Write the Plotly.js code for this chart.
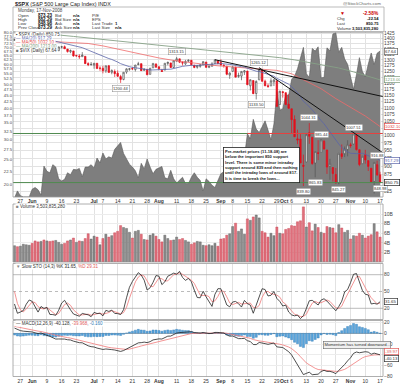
<!DOCTYPE html>
<html><head><meta charset="utf-8">
<script src="https://cdn.plot.ly/plotly-3.0.1.min.js"></script>
<style>html,body{margin:0;padding:0;background:#fff}#chart{width:400px;height:385px}</style>
</head><body><div id="chart"></div>
<script>
// ---------------- DATA (S&P 500, daily, 22-May-2008 .. 17-Nov-2008) ----------------
const dates = ["05-22","05-23","05-27","05-28","05-29","05-30","06-02","06-03","06-04","06-05","06-06","06-09","06-10","06-11","06-12","06-13","06-16","06-17","06-18","06-19","06-20","06-23","06-24","06-25","06-26","06-27","06-30","07-01","07-02","07-03","07-07","07-08","07-09","07-10","07-11","07-14","07-15","07-16","07-17","07-18","07-21","07-22","07-23","07-24","07-25","07-28","07-29","07-30","07-31","08-01","08-04","08-05","08-06","08-07","08-08","08-11","08-12","08-13","08-14","08-15","08-18","08-19","08-20","08-21","08-22","08-25","08-26","08-27","08-28","08-29","09-02","09-03","09-04","09-05","09-08","09-09","09-10","09-11","09-12","09-15","09-16","09-17","09-18","09-19","09-22","09-23","09-24","09-25","09-26","09-29","09-30","10-01","10-02","10-03","10-06","10-07","10-08","10-09","10-10","10-13","10-14","10-15","10-16","10-17","10-20","10-21","10-22","10-23","10-24","10-27","10-28","10-29","10-30","10-31","11-03","11-04","11-05","11-06","11-07","11-10","11-11","11-12","11-13","11-14","11-17"].map(d => "2008-" + d);

const openP = [1390.8,1392.2,1375.9,1386.5,1390.5,1398.4,1399.6,1386.4,1376.3,1377.5,
1400.1,1360.8,1358.9,1357.1,1335.8,1341.8,1358.9,1360.7,1349.6,1336.9,
1341.0,1319.8,1317.2,1314.5,1316.3,1283.6,1278.1,1276.7,1285.0,1262.96,
1262.9,1251.8,1273.4,1245.3,1248.7,1241.6,1226.8,1214.7,1246.3,1258.2,
1261.8,1257.1,1278.9,1283.2,1253.5,1257.8,1236.4,1264.5,1281.4,1269.4,
1253.3,1254.9,1284.0,1286.5,1266.3,1294.4,1304.8,1288.6,1282.1,1293.9,
1298.1,1276.7,1267.3,1271.1,1277.6,1290.5,1267.0,1271.3,1283.8,1296.5,
1287.8,1276.6,1271.8,1233.2,1249.5,1268.0,1227.5,1229.0,1245.9,1250.9,
1188.3,1210.3,1157.1,1213.1,1255.4,1207.6,1188.8,1187.9,1204.5,1209.1,
1113.8,1164.2,1160.6,1115.2,1097.6,1057.6,988.9,988.4,902.3,912.8,
1010.0,994.6,909.5,942.3,943.5,980.4,951.7,899.1,895.2,874.3,
848.9,939.5,939.4,953.1,968.7,971.3,1001.8,952.4,907.4,936.8,
917.2,893.4,853.1,904.4,873.23];
const highP = [1399.1,1392.2,1387.4,1391.3,1406.3,1404.5,1399.6,1393.1,1388.2,1404.1,
1400.1,1370.6,1366.8,1357.1,1353.0,1360.0,1364.7,1366.6,1349.6,1347.7,
1341.0,1323.8,1326.0,1335.6,1316.3,1289.5,1290.3,1285.3,1285.0,1271.5,
1273.95,1274.2,1277.4,1257.7,1257.6,1253.5,1234.4,1245.5,1262.3,1262.2,
1267.7,1277.4,1291.2,1283.2,1263.2,1260.1,1263.2,1284.3,1284.9,1270.5,
1260.5,1284.9,1291.7,1286.5,1297.9,1313.15,1304.8,1294.0,1300.1,1302.1,
1300.2,1276.7,1276.0,1281.4,1293.1,1290.5,1275.7,1289.6,1300.7,1296.5,
1303.0,1280.6,1271.8,1244.9,1274.4,1268.7,1243.9,1250.0,1255.1,1250.9,
1214.8,1210.3,1211.1,1265.1,1255.4,1214.0,1197.4,1220.0,1215.8,1209.1,
1168.0,1167.0,1160.6,1153.8,1097.6,1072.9,1021.1,1005.3,936.4,1006.9,
1044.31,994.6,947.7,984.4,985.44,985.4,951.7,922.8,896.3,893.8,
940.5,970.0,963.2,984.4,975.6,1007.51,1001.8,952.4,931.5,952.0,
917.2,893.4,913.0,916.88,882.29];
const lowP = [1390.2,1373.7,1373.1,1378.2,1388.6,1398.1,1377.8,1370.1,1371.7,1377.5,
1359.9,1350.7,1351.6,1335.5,1331.3,1341.7,1352.1,1350.5,1333.4,1330.4,
1314.5,1315.3,1304.4,1314.5,1283.2,1272.0,1274.9,1260.7,1261.5,1252.0,
1240.7,1242.8,1244.6,1236.8,1225.4,1225.0,1200.44,1211.4,1239.0,1251.8,
1255.7,1248.8,1276.1,1251.5,1251.8,1234.4,1236.4,1264.5,1266.0,1254.5,
1247.5,1254.7,1276.0,1264.3,1262.1,1292.2,1285.6,1274.9,1276.8,1290.7,
1274.5,1263.1,1261.2,1265.2,1277.6,1264.9,1263.2,1271.1,1283.8,1282.5,
1272.2,1265.6,1232.8,1217.2,1247.1,1224.5,1221.6,1211.5,1233.8,1192.7,
1169.3,1155.9,1133.5,1213.1,1205.6,1187.8,1179.8,1187.9,1187.5,1106.4,
1113.8,1140.8,1111.4,1098.1,1008.0,996.2,971.0,909.2,839.8,912.8,
972.1,904.0,865.83,918.7,943.5,952.5,875.8,858.4,852.9,846.8,
845.27,922.3,928.5,930.9,958.8,971.3,949.9,899.7,906.9,907.5,
884.9,850.5,818.69,869.9,848.98];
const closeP = [1394.4,1375.9,1385.4,1390.8,1398.3,1400.4,1385.7,1377.7,1377.2,1404.1,
1360.7,1361.8,1358.4,1335.5,1339.9,1360.0,1360.1,1350.9,1337.8,1342.8,
1317.9,1318.0,1314.3,1322.0,1283.2,1278.4,1280.0,1284.9,1261.5,1262.9,
1252.3,1273.7,1244.7,1253.4,1239.5,1228.3,1214.9,1245.4,1260.3,1260.7,
1260.0,1277.0,1282.2,1252.5,1257.8,1234.4,1263.2,1284.3,1267.4,1260.3,
1249.0,1284.9,1289.2,1266.1,1296.3,1305.3,1289.6,1285.8,1292.9,1298.2,
1278.6,1266.7,1274.5,1277.7,1292.2,1266.8,1271.5,1281.7,1300.7,1282.8,
1277.6,1275.0,1236.8,1242.3,1267.8,1224.5,1232.0,1249.1,1251.7,1192.7,
1213.6,1156.4,1206.5,1255.1,1207.1,1188.2,1185.9,1209.2,1213.3,1106.4,
1166.4,1161.1,1114.3,1099.2,1056.9,996.2,984.9,909.9,899.2,1003.4,
998.0,907.8,946.4,940.6,985.4,955.1,896.8,908.1,876.8,848.9,
940.5,930.1,954.1,968.8,966.3,1005.8,952.8,904.9,931.0,919.2,
899.0,852.3,911.3,873.3,850.75];

// Prior sessions (24-Apr .. 21-May-2008) used only to warm up the indicators
const priorOpen  = [1380.5,1387.9,1397.96,1395.6,1391.2,1385.97,1409.16,1413.9,1405.6,1417.49,1394.29,1394.9,1389.4,1404.4,1405.65,1408.36,1423.89,1425.28,1424.49,1414.06];
const priorHigh  = [1397.7,1399.1,1402.9,1397.0,1404.6,1410.07,1422.72,1415.3,1421.57,1419.54,1402.35,1394.9,1404.06,1406.3,1420.19,1424.4,1425.82,1440.24,1424.49,1419.12];
const priorLow   = [1371.1,1379.98,1394.4,1386.7,1384.3,1383.07,1406.25,1404.4,1397.1,1391.16,1389.39,1384.11,1386.2,1396.26,1405.65,1406.87,1414.35,1421.63,1409.09,1388.81];
const priorClose = [1388.8,1397.8,1396.4,1390.9,1385.6,1409.34,1413.9,1407.49,1418.26,1392.57,1397.68,1388.28,1403.58,1403.04,1408.66,1423.57,1425.35,1426.63,1413.4,1390.71];
const macdSeed = [1370, 1355, 9];   // EMA12, EMA26, signal estimated for 23-Apr-2008

// Volume, billions of shares
const volume = [3.4,3.2,3.3,3.7,3.6,3.5,3.9,4.4,4.2,4.3,
4.6,4.4,4.3,4.4,4.5,4.1,3.7,3.9,4.4,4.6,
5.0,4.1,4.4,4.3,4.9,5.9,4.8,5.4,5.2,3.6,
4.9,5.8,5.2,5.5,6.1,6.4,7.6,7.2,7.0,6.2,
5.0,6.4,6.6,5.8,4.7,4.6,5.6,5.9,5.4,4.7,
4.2,5.6,4.9,4.5,4.6,5.2,4.7,4.9,4.5,4.2,
3.7,4.0,4.3,4.2,3.5,3.4,3.6,3.4,3.9,3.3,
4.8,4.9,5.6,5.9,7.4,8.1,6.4,6.9,5.8,9.0,
8.7,9.4,9.8,9.2,6.4,6.1,5.2,6.0,5.5,7.3,
6.0,5.9,6.8,7.0,7.6,7.5,8.4,8.6,11.5,7.3,
8.2,6.5,7.9,7.2,6.2,6.0,7.4,7.2,7.1,6.1,
7.8,7.1,6.2,6.6,4.8,5.5,5.4,6.0,5.6,5.0,
5.4,5.7,8.0,6.3,5.2];

// $VIX close (area behind price, left log axis)
const vix = [17.6,18.8,18.0,17.8,17.8,17.8,19.1,19.4,19.0,18.1,
23.6,22.5,22.2,23.9,23.4,21.0,20.6,20.9,22.2,21.8,
22.9,22.8,23.1,21.4,23.4,23.4,23.9,23.2,25.4,24.3,
26.6,25.2,25.7,25.4,27.5,28.5,29.3,26.5,25.1,24.0,
23.4,22.6,21.2,24.2,23.0,25.2,23.4,22.0,22.9,23.2,
23.5,21.2,21.0,22.7,21.0,20.2,20.7,21.3,20.1,20.1,
21.3,22.2,21.3,20.7,18.8,21.0,20.5,19.8,19.4,20.7,
22.0,22.4,24.0,23.1,22.6,25.5,25.0,24.4,25.7,31.7,
30.3,36.2,33.1,32.1,33.8,35.7,32.8,30.0,34.7,46.7,
39.4,39.8,45.3,45.1,52.1,53.7,57.5,63.9,69.95,55.0,
53.1,69.25,67.6,70.3,52.97,53.1,69.65,67.8,79.1,80.06,
66.96,69.96,62.9,59.89,53.68,47.73,54.56,63.68,56.1,53.45,
59.98,66.46,59.83,66.31,67.64];

// Moving averages (session index -> value)
const ma50Idx = [0,5,10,15,20,25,30,35,40,45,49,54,59,64,69,74,79,84,89,94,99,104,109,114,119,124];
const ma50Val = [1368,1375,1381,1383.6,1380.5,1376,1364.5,1349.7,1332.4,1317.9,1308.7,1297.5,1288.0,1280.7,1273.7,1268.6,1264.2,1259.7,1253.6,1239.0,1208.7,1176.5,1136.8,1104.2,1070.4,1032.1];
const ma200Idx = [0,10,20,30,40,50,60,70,80,90,95,100,105,110,115,120,124];
const ma200Val = [1432,1424,1410,1395,1380,1366,1352,1338,1325,1310,1300,1289,1278,1264,1247,1229,1213];

// Drawn trend lines and levels
const trend1Idx = [68, 125], trend1Val = [1300.7, 1145];
const trend2Idx = [83, 125], trend2Val = [1265.1, 942];
const greenLevels = [1007.5, 850];
const redLevel = 1007.5, redLevelStart = 79;

// Price labels on highs / lows
const labelIdx  = [36, 55, 83, 82, 100, 98, 104, 115, 102, 110, 123, 124];
const labelVal  = [1200.44, 1313.15, 1265.12, 1133.50, 1044.31, 839.80, 985.44, 1007.51, 865.83, 845.27, 916.88, 848.98];
const labelSide = [-1, 1, 1, -1, 1, -1, 1, 1, -1, -1, 1, -1];

// Axis ticks
const tickIdx  = [2,6,11,16,21,27,30,35,40,45,49,55,60,65,70,74,79,84,89,91,94,99,104,109,114,119,124];
const tickText = ["27","<b>Jun</b>","9","16","23","<b>Jul</b>","7","14","21","28","<b>Aug</b>","11","18","25","<b>Sep</b>","8","15","22","29","\u00a0\u00a0<b>Oct</b>","6","13","20","27","<b>Nov</b>","10","17"];
const priceTicks = [825,850,875,900,925,950,975,1000,1025,1050,1075,1100,1125,1150,1175,1200,1225,1250,1275,1300,1325,1350,1375,1400,1425];
const vixTicks = [20,22.5,25,27.5,30,32.5,35,37.5,40,42.5,45,47.5,50,52.5,55,57.5,60,62.5,65,67.5,70,72.5,75,77.5,80];
const volTicks = [2,4,6,8,10];
const stoLevels = [20, 50, 80];

// ---------------- INDICATORS ----------------
const allH = priorHigh.concat(highP), allL = priorLow.concat(lowP), allC = priorClose.concat(closeP);
const P = priorClose.length;
const xIdx = closeP.map((_, i) => i);
function sma(arr, n, j){ let s = 0, c = 0; for (let k = Math.max(0, j - n + 1); k <= j; k++){ s += arr[k]; c++; } return s / c; }
const ma20 = xIdx.map(i => sma(allC, 20, i + P));
const fastK = allC.map((c, j) => { let hh = -Infinity, ll = Infinity;
  for (let k = Math.max(0, j - 13); k <= j; k++){ hh = Math.max(hh, allH[k]); ll = Math.min(ll, allL[k]); }
  return 100 * (c - ll) / (hh - ll); });
const slowKAll = fastK.map((_, j) => sma(fastK, 3, j));
const slowDAll = slowKAll.map((_, j) => sma(slowKAll, 3, j));
const stoK = xIdx.map(i => slowKAll[i + P]), stoD = xIdx.map(i => slowDAll[i + P]);
let e12 = macdSeed[0], e26 = macdSeed[1], sg = macdSeed[2];
const macdAll = [], sigAll = [];
allC.forEach(c => { e12 += (c - e12) * 2 / 13; e26 += (c - e26) * 2 / 27; const m = e12 - e26; sg += (m - sg) * 2 / 10; macdAll.push(m); sigAll.push(sg); });
const macd = xIdx.map(i => macdAll[i + P]), signal = xIdx.map(i => sigAll[i + P]);
const hist = macd.map((m, i) => m - signal[i]);
const volColor = closeP.map((c, i) => c < allC[i + P - 1] ? '#e0707c' : '#8a8a8a');
const volLine  = closeP.map((c, i) => c < allC[i + P - 1] ? '#c8404e' : '#5a5a5a');

// ---------------- LAYOUT HELPERS ----------------
const L = 13, R = 383, H = 385;
const px = x => (x - L) / (R - L);
const py = y => 1 - y / H;
const FONT = 'Liberation Sans, Arial, sans-serif';
const lg = Math.log10;

const MB = 376.5;
const mainDom = [py(197), py(32.3)], volDom = [py(262), py(204)], stoDom = [py(319.5), py(263.5)], macdDom = [py(MB), py(320.5)];
const mlo = Math.min(...macd, ...signal, ...hist);
const below = MB - 333.3, above = 333.3 - 320.5;
const unit = (below - 1.8) / (-mlo);
const macdRange = [-below / unit, above / unit];
const xr = [-0.5, 125];

const data = [
  {type:'scatter', mode:'lines', x:xIdx, y:vix, xaxis:'x2', yaxis:'y', fill:'tozeroy', fillcolor:'#7e7e7e', line:{color:'#5a5a5a', width:0.6}, hoverinfo:'skip'},
  {type:'scatter', mode:'lines', x:[xr[0], xr[1]], y:[greenLevels[0], greenLevels[0]], xaxis:'x2', yaxis:'y2', line:{color:'#4f8a4f', width:1}},
  {type:'scatter', mode:'lines', x:[xr[0], xr[1]], y:[greenLevels[1], greenLevels[1]], xaxis:'x2', yaxis:'y2', line:{color:'#4f8a4f', width:1}},
  {type:'scatter', mode:'lines', x:[redLevelStart, xr[1]], y:[redLevel, redLevel], xaxis:'x2', yaxis:'y2', line:{color:'#e84040', width:1}},
  {type:'scatter', mode:'lines', x:ma200Idx, y:ma200Val, xaxis:'x2', yaxis:'y2', line:{color:'#86a086', width:0.9}},
  {type:'scatter', mode:'lines', x:ma50Idx, y:ma50Val, xaxis:'x2', yaxis:'y2', line:{color:'#f06a6a', width:0.8}},
  {type:'scatter', mode:'lines', x:xIdx, y:ma20, xaxis:'x2', yaxis:'y2', line:{color:'#5a64a8', width:0.8}},
  {type:'candlestick', x:xIdx, open:openP, high:highP, low:lowP, close:closeP, xaxis:'x2', yaxis:'y2', whiskerwidth:0,
   increasing:{line:{color:'#555555', width:0.7}, fillcolor:'#ffffff'}, decreasing:{line:{color:'#e3101c', width:0.7}, fillcolor:'#e3101c'}, hoverinfo:'skip'},
  {type:'scatter', mode:'lines', x:trend1Idx, y:trend1Val, xaxis:'x2', yaxis:'y2', line:{color:'#111', width:1}},
  {type:'scatter', mode:'lines', x:trend2Idx, y:trend2Val, xaxis:'x2', yaxis:'y2', line:{color:'#111', width:1}},
  // volume
  {type:'bar', x:xIdx, y:volume, xaxis:'x', yaxis:'y3', marker:{color:volColor, line:{color:volLine, width:0.4}}, width:0.72},
  // slow stochastics
  {type:'scatter', mode:'lines', x:[xr[0], xr[1]], y:[stoLevels[0], stoLevels[0]], xaxis:'x', yaxis:'y4', line:{color:'#aaa', width:0.8}},
  {type:'scatter', mode:'lines', x:[xr[0], xr[1]], y:[stoLevels[1], stoLevels[1]], xaxis:'x', yaxis:'y4', line:{color:'#aaa', width:0.8, dash:'dot'}},
  {type:'scatter', mode:'lines', x:[xr[0], xr[1]], y:[stoLevels[2], stoLevels[2]], xaxis:'x', yaxis:'y4', line:{color:'#aaa', width:0.8}},
  {type:'scatter', mode:'lines', x:xIdx, y:stoD, xaxis:'x', yaxis:'y4', line:{color:'#f07a7a', width:0.8}},
  {type:'scatter', mode:'lines', x:xIdx, y:stoK, xaxis:'x', yaxis:'y4', line:{color:'#222', width:0.8}},
  // MACD
  {type:'bar', x:xIdx, y:hist, xaxis:'x', yaxis:'y5', marker:{color:'#58a4dc', line:{color:'#2f78b4', width:0.4}}, width:0.72},
  {type:'scatter', mode:'lines', x:xIdx, y:signal, xaxis:'x', yaxis:'y5', line:{color:'#f07a7a', width:0.8}},
  {type:'scatter', mode:'lines', x:xIdx, y:macd, xaxis:'x', yaxis:'y5', line:{color:'#222', width:0.8}}
];

const tf = {family:FONT, size:5, color:'#444'};
const baseX = {range:xr, tickvals:tickIdx, ticktext:tickText, tickangle:0, showgrid:true, gridcolor:'#e2e2e2', gridwidth:1, zeroline:false, ticks:'', ticklen:0, tickfont:{family:FONT, size:5, color:'#333'}, showline:false, fixedrange:true};
const layout = {
  width:400, height:385, margin:{l:L, r:400 - R, t:0, b:0}, paper_bgcolor:'#fff', plot_bgcolor:'#fff',
  showlegend:false, bargap:0.25, font:{family:FONT},
  xaxis: Object.assign({}, baseX, {anchor:'y5', domain:[0,1]}),
  xaxis2: Object.assign({}, baseX, {anchor:'y', domain:[0,1], rangeslider:{visible:false}}),
  yaxis: {domain:mainDom, anchor:'x2', type:'log', range:[lg(17.78), lg(80.3)], side:'left', tickvals:vixTicks, ticktext:vixTicks.map(v => v.toFixed(1)), showgrid:false, zeroline:false, ticks:'', tickfont:{family:FONT, size:4.2, color:'#444'}},
  yaxis2: {overlaying:'y', anchor:'x2', side:'right', type:'log', range:[lg(808.6), lg(1430.3)], tickvals:priceTicks, ticktext:priceTicks.map(String), showgrid:true, gridcolor:'#e2e2e2', zeroline:false, ticks:'', tickfont:{family:FONT, size:4.8, color:'#444'}},
  yaxis3: {domain:volDom, anchor:'x', side:'right', range:[0, 12.1], tickvals:volTicks, ticktext:volTicks.map(v => v + 'B'), showgrid:true, gridcolor:'#ececec', zeroline:false, ticks:'', tickfont:tf},
  yaxis4: {domain:stoDom, anchor:'x', side:'right', range:[0, 100], tickvals:stoLevels, ticktext:stoLevels.map(String), showgrid:false, zeroline:false, ticks:'', tickfont:tf},
  yaxis5: {domain:macdDom, anchor:'x', side:'right', range:macdRange, dtick:20, showgrid:true, gridcolor:'#ececec', zeroline:true, zerolinecolor:'#a0a0a0', zerolinewidth:0.8, ticks:'', tickfont:tf},
  shapes: [], annotations: []
};

// panel borders + header box
[[32.3,197],[204,262],[263.5,319.5],[320.5,MB]].forEach(([t, b]) => layout.shapes.push({type:'rect', xref:'paper', yref:'paper', x0:0, x1:1, y0:py(b), y1:py(t), line:{color:'#9a9a9a', width:0.8}, layer:'above'}));
layout.shapes.push({type:'rect', xref:'paper', yref:'paper', x0:px(13), x1:px(384), y0:py(31.5), y1:py(7), line:{color:'#aaaaaa', width:0.8}});

const A = layout.annotations;
function txt(x, y, text, o = {}){
  A.push(Object.assign({xref:'paper', yref:'paper', x:px(x), y:py(y), text, showarrow:false, xanchor:'left', yanchor:'middle',
    font:{family:FONT, size:4.4, color:'#333'}}, o));
}
// header
txt(13, 3.6, '<b>$SPX</b> (S&P 500 Large Cap Index) INDX', {font:{family:FONT, size:5.4, color:'#222'}});
txt(383, 3.4, '@StockCharts.com', {xanchor:'right', font:{family:FONT, size:4.4, color:'#666'}});
txt(16, 10.6, 'Monday, 17-Nov-2008', {font:{family:FONT, size:4.5, color:'#444'}});
const rowsY = [15, 19.3, 23.6, 27.9];
const c1 = ['Open','High','Low','Prev Close'], v1 = ['873.23','882.29','848.98','873.29'];
const c2 = ['Bid','Bid Size','Ask','Ask Size'], c3 = ['P/E','EPS','Last Trade','Last Size'], v3 = ['','','1','n/a'];
rowsY.forEach((y, k) => {
  txt(16, y, c1[k]); txt(36, y, '<b>' + v1[k] + '</b>', {font:{family:FONT, size:4.6, color:'#111'}});
  txt(53, y, c2[k]); txt(71, y, '<b>n/a</b>', {font:{family:FONT, size:4.4, color:'#111'}});
  txt(90, y, c3[k]); if (v3[k]) txt(113, y, '<b>' + v3[k] + '</b>', {font:{family:FONT, size:4.4, color:'#111'}});
});
txt(338, 13.3, '▼', {font:{family:FONT, size:5, color:'#c00'}});
txt(381, 13.3, '<b>-2.58%</b>', {xanchor:'right', font:{family:FONT, size:4.8, color:'#c00'}});
[['Chg','-22.54',18.6],['Last','850.75',23.6],['Volume','3,503,835,280',28.4]].forEach(([a, b, y]) => {
  txt(335, y, a, {font:{family:FONT, size:4.2, color:'#333'}}); txt(381, y, '<b>' + b + '</b>', {xanchor:'right', font:{family:FONT, size:4.1, color:'#111'}});
});

// main panel legend
const leg = {bgcolor:'#ffffff', borderpad:0, font:{family:FONT, size:4.5, color:'#333'}};
const last = arr => arr[arr.length - 1];
txt(14.5, 34.4, '<b>▪</b> $SPX (Daily) ' + last(closeP).toFixed(2), leg);
txt(14.5, 38.4, '<span style="color:#5a64a8">— MA(20) ' + last(ma20).toFixed(2) + '</span>', leg);
txt(14.5, 42.4, '<span style="color:#e04848">— MA(50) ' + last(ma50Val).toFixed(2) + '</span>', leg);
txt(14.5, 46.4, '<span style="color:#789878">— MA(200) ' + last(ma200Val).toFixed(2) + '</span>', leg);
txt(14.5, 50.4, '<span style="color:#777">■</span> $VIX (Daily) ' + last(vix).toFixed(2), leg);
// other panel legends
txt(14.5, 206.8, '<span style="color:#888">■</span> Volume 3,503,835,280', leg);
txt(14.5, 266, '<span style="color:#888">▼</span> Slow STO (14,3) <span style="color:#222">%K ' + last(stoK).toFixed(2) + '</span>, <span style="color:#e05a5a">%D ' + last(stoD).toFixed(2) + '</span>', leg);
txt(14.5, 323.2, '— MACD(12,26,9) ' + last(macd).toFixed(3) + ', <span style="color:#e05a5a">' + last(signal).toFixed(3) + '</span>, <span style="color:#2f78b4">' + last(hist).toFixed(3) + '</span>', leg);

// commentary boxes
txt(223, 147, '<b>Pre-market prices (11-18-08) are<br>below the important 850 support<br>level. There is some minor intraday<br>support around 839 and then nothing<br>until the intraday lows of around 817.<br>It is time to break the lows...</b>',
  {yanchor:'top', align:'left', bgcolor:'#ffffff', bordercolor:'#222', borderwidth:0.8, borderpad:1.2, font:{family:FONT, size:4.1, color:'#222'}});
txt(323, 344.5, 'Momentum has turned downward...', {bgcolor:'#f0f0f0', bordercolor:'#666', borderwidth:0.6, borderpad:0.8, font:{family:FONT, size:4.2, color:'#333'}});

// high / low labels on candles
labelIdx.forEach((i, k) => A.push({xref:'x2', yref:'y2', x:i, y:lg(labelVal[k]), yshift:labelSide[k] * 5.5, text:labelVal[k].toFixed(2), showarrow:false,
  bgcolor:'#ffffff', bordercolor:'#888', borderwidth:0.5, borderpad:0.5, font:{family:FONT, size:4.1, color:'#333'}}));

// right-axis value boxes
function box(yref, y, text, color, fg, shift){
  A.push({xref:'paper', yref, x:px(384), y, yshift:shift || 0, xanchor:'left', yanchor:'middle', text, showarrow:false, bgcolor:'#ffffff', bordercolor:color, borderwidth:0.7, borderpad:0.3,
    font:{family:FONT, size:4.4, color:fg || color}});
}
box('y', lg(last(vix)), last(vix).toFixed(2), '#666', '#333');
box('y2', lg(last(ma200Val)), last(ma200Val).toFixed(2), '#789878');
box('y2', lg(last(ma50Val)), last(ma50Val).toFixed(2), '#e04848');
box('y2', lg(last(ma20)), last(ma20).toFixed(2), '#5a64a8');
box('y2', lg(last(closeP)), last(closeP).toFixed(2), '#222');
box('y4', last(stoK), last(stoK).toFixed(2), '#333');
const gapPx = (last(macd) - last(signal)) * unit;
const sep = Math.max(0, 6.5 - Math.abs(gapPx)) / 2;
const dir = gapPx >= 0 ? 1 : -1;
box('y5', last(signal), last(signal).toFixed(2), '#e05a5a', null, -dir * sep);
box('y5', last(macd), last(macd).toFixed(2), '#333', null, dir * sep);

Plotly.newPlot('chart', data, layout, {staticPlot:true, displayModeBar:false});
</script></body></html>
